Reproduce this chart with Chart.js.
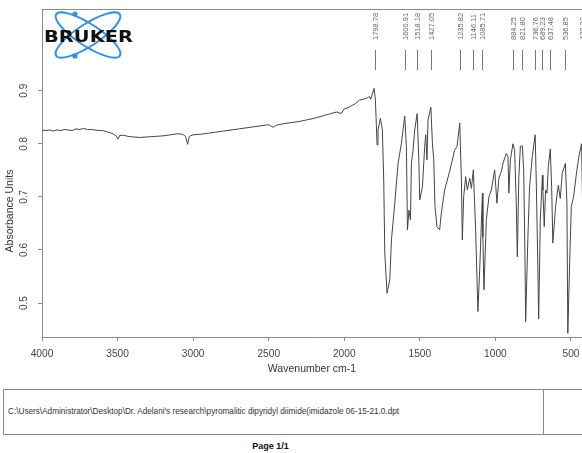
<!DOCTYPE html>
<html>
<head>
<meta charset="utf-8">
<script src="https://cdn.jsdelivr.net/npm/chart.js@4.4.1/dist/chart.umd.min.js"></script>
<style>
  body { margin: 0; width: 582px; height: 453px; overflow: hidden; background: #fff; position: relative;
         font-family: "Liberation Sans", Arial, sans-serif; }
  #spectrum { position: absolute; left: 0; top: 0; }
  #logo { position: absolute; left: 0; top: 0; }
  #footer { position: absolute; left: 3px; top: 389px; width: 660px; height: 44px; border: 1px solid #8a8a8a; }
  #footer .path { position: absolute; left: 4px; top: 17px; font-size: 8.2px; color: #333; white-space: nowrap; }
  #footer .divider { position: absolute; left: 539px; top: 0; bottom: 0; border-left: 1px solid #8a8a8a; }
  #page { position: absolute; left: 0; width: 541px; top: 441px; text-align: center; font-weight: bold; font-size: 9px; color: #111; }
</style>
</head>
<body>
<canvas id="spectrum" width="582" height="385"></canvas>

<svg id="logo" width="140" height="64" viewBox="0 0 140 64">
  <g fill="none" stroke="#2f8fe8" stroke-width="2">
    <ellipse cx="88" cy="35" rx="38" ry="11" transform="rotate(33 88 35)"/>
    <ellipse cx="88" cy="35" rx="38" ry="11" transform="rotate(-33 88 35)"/>
  </g>
  <circle cx="75" cy="14" r="2.6" fill="#2f8fe8"/>
  <circle cx="75" cy="56" r="2.6" fill="#2f8fe8"/>
  <text x="44" y="41.5" textLength="89" lengthAdjust="spacingAndGlyphs"
        font-family="DejaVu Sans" font-weight="bold" font-size="15.5" fill="#111">BRUKER</text>
</svg>

<div id="footer">
  <div class="path">C:\Users\Administrator\Desktop\Dr. Adelani's research\pyromalitic dipyridyl diimide(imidazole 06-15-21.0.dpt</div>
  <div class="divider"></div>
</div>
<div id="page">Page 1/1</div>

<script>
// IR spectrum, wavenumber (cm-1) against absorbance
const wavenumbers = [
  4000, 3975, 3950, 3925, 3900, 3875, 3850, 3825, 3800, 3775, 3750, 3725, 3700, 3675, 3650, 3625,
  3600, 3575, 3550, 3525, 3510, 3497, 3485, 3460, 3430, 3400, 3350, 3300, 3250, 3200, 3150, 3100,
  3070, 3050, 3037, 3025, 3000, 2950, 2900, 2850, 2800, 2750, 2700, 2650, 2600, 2550, 2500, 2470,
  2450, 2400, 2350, 2300, 2250, 2200, 2150, 2100, 2050, 2020, 2000, 1975, 1950, 1925, 1898, 1875,
  1853, 1832, 1825, 1803, 1794, 1783, 1777, 1761, 1748, 1739, 1732, 1717, 1699, 1688, 1666, 1644,
  1622, 1600, 1589, 1582, 1572, 1562, 1556, 1545, 1534, 1518, 1506, 1501, 1483, 1468, 1461, 1453,
  1446, 1427, 1417, 1408, 1400, 1387, 1369, 1358, 1336, 1303, 1270, 1254, 1236, 1225, 1219, 1210,
  1197, 1186, 1170, 1159, 1146, 1131, 1116, 1104, 1086, 1083, 1076, 1060, 1043, 1027, 1005, 990,
  977, 961, 950, 928, 917, 911, 901, 884, 873, 862, 855, 845, 835, 822, 813, 805,
  800, 785, 774, 756, 737, 729, 721, 714, 703, 689, 686, 677, 668, 659, 650, 637,
  628, 620, 602, 584, 571, 558, 537, 527, 521, 509, 498, 483, 461, 445, 430, 424,
  418
];
const absorbance = [
  0.826, 0.825, 0.826, 0.824, 0.826, 0.825, 0.827, 0.826, 0.825, 0.828, 0.827, 0.829, 0.827, 0.827, 0.826, 0.825,
  0.825, 0.823, 0.821, 0.818, 0.815, 0.809, 0.816, 0.816, 0.814, 0.813, 0.812, 0.813, 0.814, 0.815, 0.817, 0.819,
  0.818, 0.814, 0.799, 0.814, 0.817, 0.818, 0.820, 0.822, 0.824, 0.826, 0.828, 0.830, 0.832, 0.834, 0.836, 0.831,
  0.835, 0.838, 0.840, 0.842, 0.845, 0.848, 0.852, 0.856, 0.860, 0.857, 0.866, 0.868, 0.872, 0.876, 0.8825, 0.884,
  0.886, 0.889, 0.884, 0.9045, 0.8825, 0.798, 0.826, 0.848, 0.826, 0.732, 0.594, 0.5185, 0.5435, 0.619, 0.688, 0.763,
  0.801, 0.852, 0.795, 0.638, 0.675, 0.657, 0.763, 0.788, 0.826, 0.857, 0.763, 0.694, 0.719, 0.795, 0.817, 0.770,
  0.845, 0.869, 0.801, 0.770, 0.682, 0.644, 0.638, 0.669, 0.713, 0.748, 0.788, 0.795, 0.839, 0.732, 0.619, 0.700,
  0.738, 0.713, 0.735, 0.716, 0.751, 0.638, 0.484, 0.563, 0.707, 0.625, 0.525, 0.657, 0.700, 0.713, 0.751, 0.688,
  0.735, 0.748, 0.763, 0.782, 0.776, 0.707, 0.770, 0.800, 0.788, 0.688, 0.587, 0.738, 0.795, 0.796, 0.751, 0.594,
  0.465, 0.625, 0.719, 0.776, 0.817, 0.719, 0.594, 0.470, 0.657, 0.741, 0.713, 0.644, 0.713, 0.707, 0.757, 0.790,
  0.719, 0.613, 0.682, 0.722, 0.697, 0.744, 0.763, 0.688, 0.443, 0.575, 0.682, 0.700, 0.751, 0.780, 0.800, 0.700,
  0.620
];

// picked peaks, printed above the plot
const peakPositions = [1798.78, 1600.91, 1518.18, 1427.05, 1235.82, 1146.11, 1085.71,
  884.25, 821.80, 736.76, 689.23, 637.48, 536.85, 430.32];

const xTicks = [4000, 3500, 3000, 2500, 2000, 1500, 1000, 500];
const yTicks = [0.5, 0.6, 0.7, 0.8, 0.9];
const xRange = [427.2, 4000];
const yRange = [0.436, 1.054];

const frameColor = "#8a8a8a";
Chart.defaults.font.family = '"Liberation Sans", Arial, sans-serif';

// top frame line, rotated y labels, axis title and peak markers
const extras = {
  id: "extras",
  afterDraw(chart) {
    const { ctx, chartArea, scales: { x, y } } = chart;
    ctx.save();

    ctx.strokeStyle = frameColor;
    ctx.lineWidth = 1;
    ctx.beginPath();
    ctx.moveTo(chartArea.left, chartArea.top + 0.5);
    ctx.lineTo(chartArea.right, chartArea.top + 0.5);
    ctx.stroke();

    ctx.fillStyle = "#444";
    ctx.font = '10px "Liberation Sans"';
    ctx.textAlign = "center";
    ctx.textBaseline = "middle";
    y.ticks.forEach(t => {
      ctx.save();
      ctx.translate(24, y.getPixelForValue(t.value));
      ctx.rotate(-Math.PI / 2);
      ctx.fillText(t.value.toFixed(1), 0, 0);
      ctx.restore();
    });

    ctx.fillStyle = "#333";
    ctx.font = '10.5px "Liberation Sans"';
    ctx.save();
    ctx.translate(10.5, 211);
    ctx.rotate(-Math.PI / 2);
    ctx.fillText("Absorbance Units", 0, 0);
    ctx.restore();

    ctx.strokeStyle = "#777";
    ctx.fillStyle = "#666";
    ctx.font = '7.5px "Liberation Sans"';
    ctx.textAlign = "left";
    peakPositions.forEach(p => {
      const px = Math.round(x.getPixelForValue(p)) + 0.5;
      ctx.beginPath();
      ctx.moveTo(px, 50);
      ctx.lineTo(px, 70);
      ctx.stroke();
      ctx.save();
      ctx.translate(px, 40);
      ctx.rotate(-Math.PI / 2);
      ctx.fillText(p.toFixed(2), 0, 0);
      ctx.restore();
    });

    ctx.restore();
  }
};

new Chart(document.getElementById("spectrum").getContext("2d"), {
  type: "line",
  data: {
    datasets: [
      {
        data: wavenumbers.map((w, i) => ({ x: w, y: absorbance[i] })),
        borderColor: "#444",
        borderWidth: 1,
        pointRadius: 0,
        tension: 0,
      },
    ],
  },
  options: {
    responsive: false,
    animation: false,
    layout: { padding: { top: 9, right: 0, bottom: 0, left: 0 } },
    plugins: { legend: { display: false }, tooltip: { enabled: false } },
    scales: {
      x: {
        type: "linear",
        reverse: true,
        min: xRange[0],
        max: xRange[1],
        afterBuildTicks: scale => { scale.ticks = xTicks.map(v => ({ value: v })); },
        afterFit: scale => {
          scale.height = 48;
          scale.paddingLeft = 0;
          scale.paddingRight = 0;
        },
        ticks: {
          color: "#444",
          font: { size: 10.2 },
          padding: 7,
          maxRotation: 0,
          autoSkip: false,
          callback: v => String(v),
        },
        grid: { drawOnChartArea: false, tickLength: 4, color: frameColor },
        border: { color: frameColor },
        title: {
          display: true,
          text: "Wavenumber cm-1",
          color: "#333",
          font: { size: 10.5 },
          padding: { top: 0, bottom: 10 },
        },
      },
      y: {
        min: yRange[0],
        max: yRange[1],
        afterBuildTicks: scale => { scale.ticks = yTicks.map(v => ({ value: v })); },
        afterFit: scale => { scale.width = 42; },
        ticks: { display: false },
        grid: { drawOnChartArea: false, tickLength: 4, color: frameColor },
        border: { color: frameColor },
      },
    },
  },
  plugins: [extras],
});
</script>
</body>
</html>
